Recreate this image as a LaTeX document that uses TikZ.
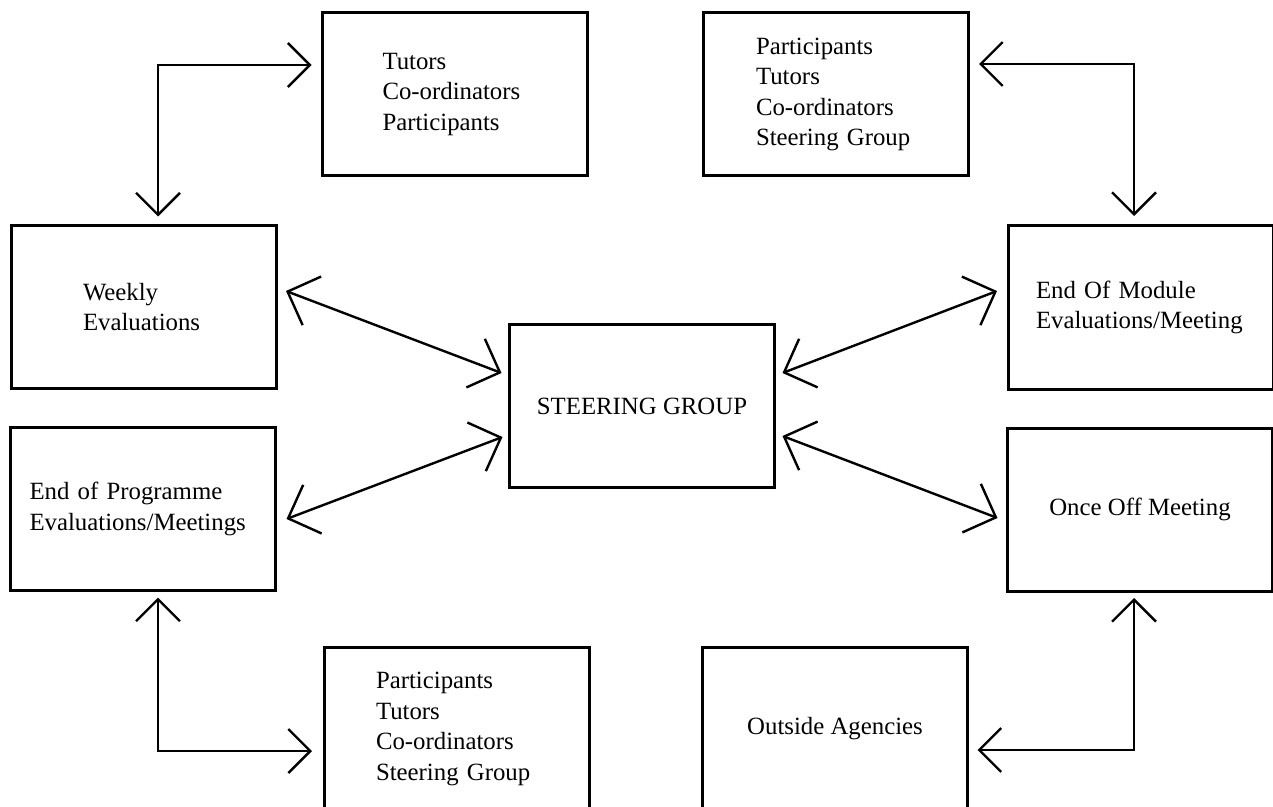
\documentclass[tikz,border=0pt]{standalone}
\usepackage{fontspec}
\setmainfont{Liberation Serif}
\usetikzlibrary{arrows.meta}

\begin{document}
\begin{tikzpicture}[x=0.5pt,y=-0.5pt,
        box/.style={draw,line width=1.5pt,outer sep=0pt,minimum width=132.5pt,minimum height=81.5pt,font=\fontsize{12.4}{15.2}\selectfont},
        link/.style={line width=1.2pt,>={Straight Barb[length=11pt,width=22pt]},<->},
        slink/.style={line width=1.2pt,>={Straight Barb[length=13pt,width=26pt]},<->}]
        \useasboundingbox (0,0) rectangle (1273,807);

        \node [box,align=left,inner xsep=30pt,text width=72.5pt] at (455,94.5) (tutors) {Tutors\\Co-ordinators\\Participants};
        \node [box,align=left,inner xsep=26.5pt,text width=79.5pt] at (835.5,94.5) (panel) {Participants\\Tutors\\Co-ordinators\\Steering Group};
        \node [box,align=left,inner xsep=36pt,text width=60.5pt] at (143.5,307) (weekly) {Weekly\\Evaluations};
        \node [box,align=left,inner xsep=14pt,text width=104.5pt] at (1140.5,307.5) (module) {End Of Module\\Evaluations/Meeting};
        \node [box,align=center] at (642,406) (steering) {STEERING GROUP};
        \node [box,align=left,inner xsep=9.5pt,text width=113.5pt] at (143,509) (programme) {End of Programme\\Evaluations/Meetings};
        \node [box,align=center] at (1140,509.5) (onceoff) {Once Off Meeting};
        \node [box,align=left,inner xsep=26pt,text width=80.5pt] at (456.5,729) (review) {Participants\\Tutors\\Co-ordinators\\Steering Group};
        \node [box,align=center] at (835,729) (agencies) {Outside Agencies};

        \draw [link] ([shift={(14.5,-9)}]weekly.north) |- ([shift={(-11,-29.5)}]tutors.west);
        \draw [link] ([shift={(11,-30.5)}]panel.east) -| ([shift={(-6.5,-10)}]module.north);
        \draw [link] ([shift={(15,7)}]programme.south) |- ([shift={(-12,22)}]review.west);
        \draw [link] ([shift={(-6,7)}]onceoff.south) |- ([shift={(10,21)}]agencies.east);

        \draw [slink] ([shift={(10,-16)}]weekly.east) -- ([shift={(-8,-33)}]steering.west);
        \draw [slink] ([shift={(11,10)}]programme.east) -- ([shift={(-7,31)}]steering.west);
        \draw [slink] ([shift={(-11,-16.5)}]module.west) -- ([shift={(8,-33)}]steering.east);
        \draw [slink] ([shift={(-10,8.5)}]onceoff.west) -- ([shift={(8,30)}]steering.east);
      \end{tikzpicture}
\end{document}
